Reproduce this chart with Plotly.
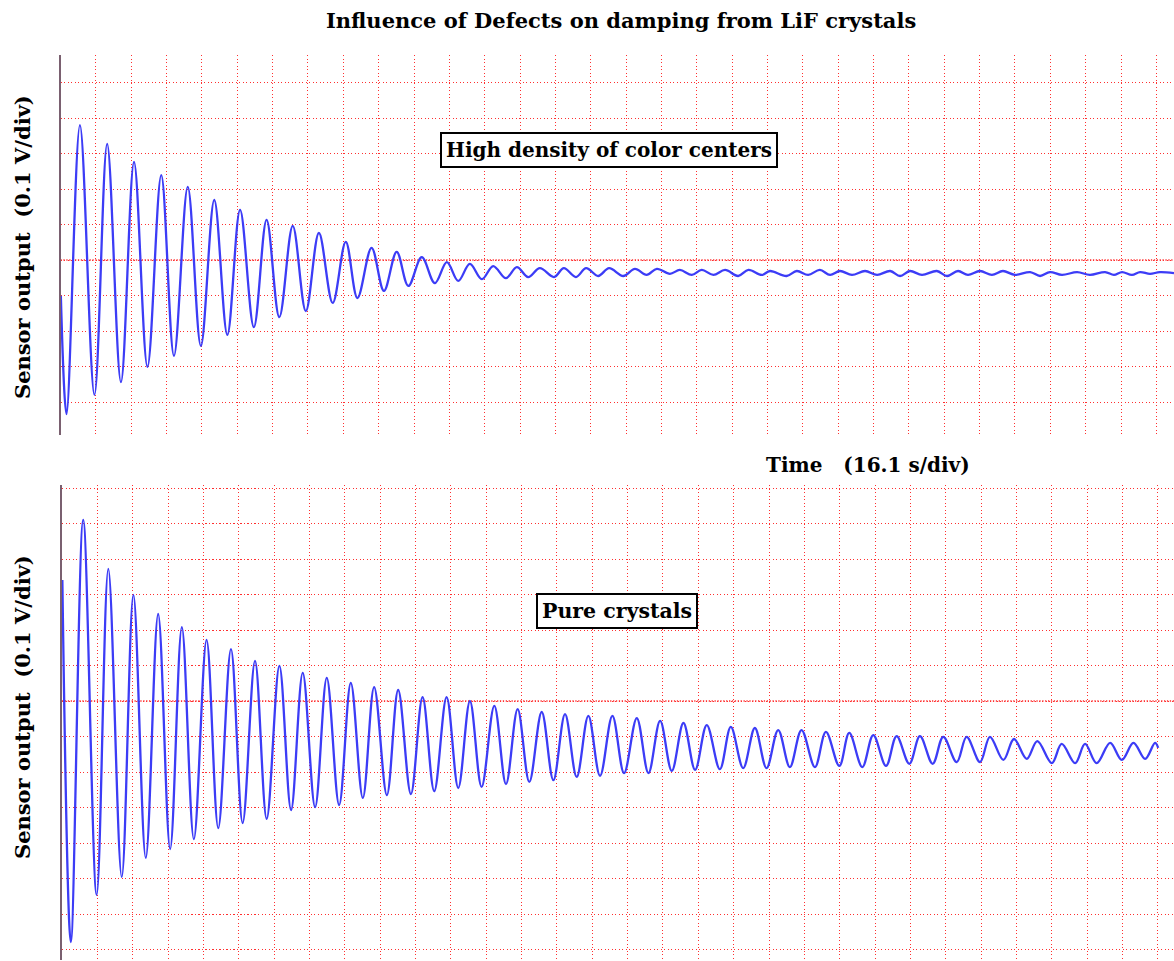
import plotly.graph_objects as go

# ---------------- data (in grid divisions) ----------------
SEC_PER_DIV = 16.1   # Time (16.1 s/div)
VOLT_PER_DIV = 0.1   # Sensor output (0.1 V/div)

# Top panel: high density of color centers
top_t_div = [0.01, 0.17, 0.55, 0.96, 1.32, 1.71, 2.08, 2.46, 2.85, 3.21, 3.60, 3.97, 4.35, 4.72,
             5.08, 5.47, 5.83, 6.19, 6.57, 6.94, 7.31, 7.70, 8.07, 8.40, 8.80, 9.15, 9.51, 9.84,
             10.22, 10.59, 10.93, 11.25, 11.58, 11.92, 12.24, 12.60, 12.91, 13.23, 13.56, 13.96,
             14.24, 14.58, 14.87, 15.21, 15.52, 15.92, 16.25, 16.58, 16.87, 17.24, 17.52, 17.86,
             18.14, 18.47, 18.80, 19.17, 19.46, 19.84, 20.07, 20.54, 20.83, 21.15, 21.48, 21.77,
             22.05, 22.39, 22.76, 23.10, 23.47, 23.75, 24.03, 24.37, 24.79, 25.08, 25.39, 25.67,
             26.01, 26.35, 26.66, 27.00, 27.43, 27.71, 27.99, 28.33, 28.76, 29.12, 29.55, 29.80,
             30.03, 30.31, 30.54, 30.82, 31.10, 31.50]
top_v_div = [-1.01, -4.34, 3.80, -3.80, 3.27, -3.44, 2.76, -3.01, 2.39, -2.70, 2.06, -2.42, 1.69, -2.11,
             1.41, -1.89, 1.13, -1.61, 0.96, -1.44, 0.76, -1.21, 0.51, -1.07, 0.34, -0.87, 0.23, -0.73,
             0.08, -0.65, -0.06, -0.59, -0.11, -0.54, -0.17, -0.51, -0.20, -0.48, -0.23, -0.48,
             -0.23, -0.48, -0.23, -0.45, -0.23, -0.45, -0.25, -0.42, -0.25, -0.39, -0.28, -0.42,
             -0.28, -0.42, -0.28, -0.45, -0.28, -0.42, -0.31, -0.45, -0.31, -0.42, -0.28, -0.42,
             -0.31, -0.42, -0.31, -0.42, -0.31, -0.45, -0.31, -0.42, -0.31, -0.45, -0.31, -0.42,
             -0.31, -0.42, -0.31, -0.42, -0.34, -0.45, -0.34, -0.42, -0.34, -0.42, -0.34, -0.42,
             -0.34, -0.42, -0.34, -0.39, -0.34, -0.37]

# Bottom panel: pure crystals
bot_t_div = [0.01, 0.25, 0.60, 0.98, 1.31, 1.69, 2.02, 2.37, 2.72, 3.06, 3.39, 3.73, 4.09, 4.42,
             4.78, 5.11, 5.46, 5.79, 6.15, 6.48, 6.81, 7.16, 7.49, 7.84, 8.17, 8.51, 8.83, 9.19,
             9.51, 9.87, 10.20, 10.53, 10.88, 11.21, 11.54, 11.87, 12.23, 12.56, 12.89, 13.22,
             13.57, 13.90, 14.23, 14.56, 14.89, 15.22, 15.57, 15.90, 16.26, 16.59, 16.92, 17.25,
             17.58, 17.91, 18.24, 18.61, 18.92, 19.27, 19.60, 19.93, 20.26, 20.59, 20.92, 21.30,
             21.61, 21.99, 22.27, 22.64, 22.95, 23.31, 23.61, 23.97, 24.27, 24.63, 24.93, 25.31,
             25.59, 25.97, 26.25, 26.63, 26.93, 27.29, 27.59, 28.00, 28.28, 28.66, 28.94, 29.27,
             29.65, 29.98, 30.31, 30.64, 30.92, 31.01]
bot_v_div = [3.41, -6.79, 5.10, -5.46, 3.72, -4.96, 2.99, -4.42, 2.45, -4.17, 2.08, -3.89, 1.72, -3.58,
             1.46, -3.44, 1.13, -3.32, 0.99, -3.07, 0.79, -2.99, 0.65, -2.93, 0.51, -2.73, 0.39, -2.65,
             0.31, -2.62, 0.11, -2.54, 0.11, -2.45, 0.00, -2.42, -0.14, -2.34, -0.23, -2.28,
             -0.31, -2.23, -0.37, -2.14, -0.42, -2.11, -0.42, -2.03, -0.48, -2.03, -0.56, -1.97,
             -0.62, -1.94, -0.68, -1.92, -0.73, -1.89, -0.76, -1.89, -0.82, -1.86, -0.82, -1.86,
             -0.87, -1.83, -0.90, -1.86, -0.96, -1.83, -0.99, -1.77, -0.99, -1.77, -1.01, -1.72,
             -1.01, -1.72, -1.01, -1.66, -1.07, -1.63, -1.13, -1.75, -1.21, -1.75, -1.21, -1.75,
             -1.18, -1.66, -1.18, -1.63, -1.18, -1.32]

title_text = "Influence of Defects on damping from LiF crystals"
top_label = "High density of color centers"
bot_label = "Pure crystals"
y_label = "Sensor output\u00a0\u00a0(0.1 V/div)"
x_label = "Time\u00a0\u00a0\u00a0(16.1 s/div)"

# ---------------- figure ----------------
W, H = 1174, 961
FONT = "DejaVu Serif"
LINE_COLOR = "#3c3cf6"
GRID = "#ff3030"

fig = go.Figure()
fig.add_trace(go.Scatter(x=top_t_div, y=top_v_div, mode="lines", xaxis="x", yaxis="y",
                         line=dict(color=LINE_COLOR, width=2.3, shape="spline", smoothing=1.0),
                         hoverinfo="skip", showlegend=False))
fig.add_trace(go.Scatter(x=bot_t_div, y=bot_v_div, mode="lines", xaxis="x2", yaxis="y2",
                         line=dict(color=LINE_COLOR, width=2.3, shape="spline", smoothing=1.0),
                         hoverinfo="skip", showlegend=False))

def xax(left_px, anchor):
    return dict(domain=[left_px / W, 1], range=[0, (W - left_px) / 35.35], anchor=anchor,
                tick0=0, dtick=1, showgrid=True, gridcolor=GRID, gridwidth=1.3, griddash="1.3px,2.2px",
                zeroline=False, showticklabels=False, ticks="", showline=False, fixedrange=True)

def yax(top_px, bot_px, zero_px, anchor):
    return dict(domain=[1 - bot_px / H, 1 - top_px / H],
                range=[(zero_px - bot_px) / 35.5, (zero_px - top_px) / 35.5], anchor=anchor,
                tick0=0, dtick=1, showgrid=True, gridcolor=GRID, gridwidth=1.3, griddash="1.3px,2.2px",
                zeroline=False, showticklabels=False, ticks="",
                showline=True, linecolor="#7a6070", linewidth=2, fixedrange=True)

fig.update_layout(
    width=W, height=H, margin=dict(l=0, r=0, t=0, b=0),
    paper_bgcolor="white", plot_bgcolor="white",
    xaxis=xax(60.5, "y"), yaxis=yax(55, 435, 260, "x"),
    xaxis2=xax(62, "y2"), yaxis2=yax(485, 960, 701, "x2"),
)

# slightly denser centre lines
shapes = []
for xr, yr in (("x", "y"), ("x2", "y2")):
    shapes.append(dict(type="line", xref=f"{xr} domain", yref=yr, x0=0, x1=1, y0=0, y1=0,
                       line=dict(color=GRID, width=1.3, dash="1.3px,1.6px"), layer="below"))
fig.update_layout(shapes=shapes)

def label(text, xpx, ypx, size, box=False, angle=0):
    d = dict(text=f"<b>{text}</b>", x=xpx / W, y=1 - ypx / H, xref="paper", yref="paper",
             xanchor="center", yanchor="middle", showarrow=False, textangle=angle,
             font=dict(family=FONT, size=size, color="black"))
    if box:
        d.update(bgcolor="white", bordercolor="black", borderwidth=2, borderpad=4)
    return d

ann = [
    label(title_text, 621, 20, 21),
    label(top_label, 609, 150, 20, box=True),
    label(bot_label, 617, 611, 20.5, box=True),
    label(x_label, 868, 465, 20),
    label(y_label, 22, 247, 21, angle=-90),
    label(y_label, 22, 707, 21, angle=-90),
]
fig.update_layout(annotations=ann)

fig.write_html("out.html", config={"displayModeBar": False},
               post_script="document.body.style.margin='0';")
